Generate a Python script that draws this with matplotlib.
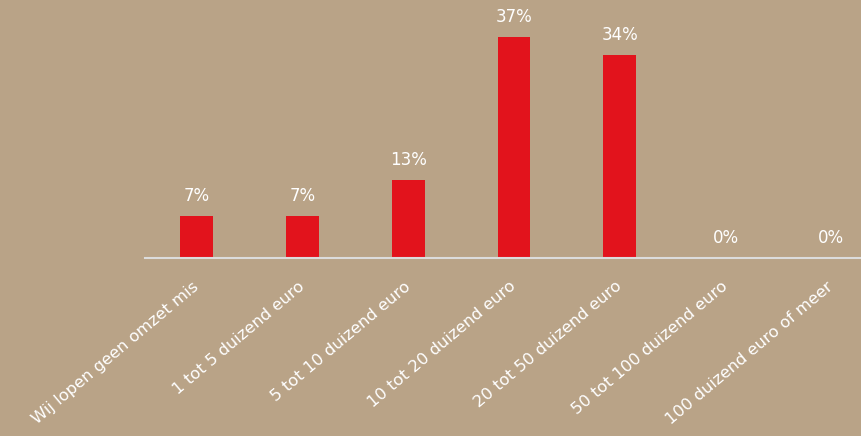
import matplotlib.pyplot as plt

categories = [
    "Wij lopen geen omzet mis",
    "1 tot 5 duizend euro",
    "5 tot 10 duizend euro",
    "10 tot 20 duizend euro",
    "20 tot 50 duizend euro",
    "50 tot 100 duizend euro",
    "100 duizend euro of meer",
]
values = [7, 7, 13, 37, 34, 0, 0]
value_labels = ["7%", "7%", "13%", "37%", "34%", "0%", "0%"]

bg = "#b9a387"
plt.rcParams["font.family"] = ["DejaVu Sans"]

fig = plt.figure(figsize=(8.61, 4.36), dpi=100, facecolor=bg)
# axes: x from 145px to 861px, baseline at y=258px
ax = fig.add_axes([145 / 861, (436 - 258) / 436, (861 - 145) / 861, (258 - 10) / 436])
ax.set_facecolor(bg)

x = range(len(categories))
ax.bar(x, values, width=0.31, color="#e2131c", zorder=2)
for xi, v, lab in zip(x, values, value_labels):
    ax.annotate(lab, (xi, v), xytext=(0, 11), textcoords="offset pixels",
                ha="center", va="bottom", color="white", fontsize=12)

ax.set_xlim(-0.49, 6.28)
ax.set_ylim(0, 248 / 5.97)
ax.set_yticks([])
ax.set_xticks(list(x))
ax.set_xticklabels(categories, rotation=40, ha="right", va="center",
                   rotation_mode="anchor", color="white", fontsize=11.8)
ax.tick_params(axis="x", length=0, pad=19)
for s in ["top", "right", "left"]:
    ax.spines[s].set_visible(False)
ax.spines["bottom"].set_color("#dcdcdc")
ax.spines["bottom"].set_linewidth(1.5)

fig.savefig("out.png", dpi=100, facecolor=bg)
